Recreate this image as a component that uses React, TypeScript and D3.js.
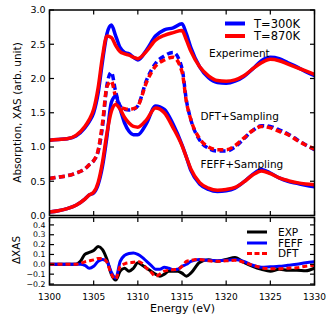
import React from 'react';
import * as d3 from 'd3';

// top panel energies (eV)
const energies = [1300, 1301, 1302, 1303, 1304, 1304.5, 1305, 1305.5, 1306, 1306.5, 1307, 1307.5, 1308, 1308.5, 1309, 1309.5, 1310, 1311, 1312, 1313, 1314, 1315, 1315.5, 1316, 1317, 1318, 1319, 1320, 1321, 1322, 1323, 1324, 1325, 1326, 1327, 1328, 1329, 1330];

const exp300 = [1.10, 1.11, 1.12, 1.16, 1.28, 1.37, 1.50, 1.78, 2.25, 2.65, 2.78, 2.62, 2.45, 2.38, 2.36, 2.31, 2.27, 2.42, 2.62, 2.71, 2.74, 2.80, 2.65, 2.45, 2.17, 2.01, 1.94, 1.93, 1.96, 2.03, 2.14, 2.26, 2.31, 2.29, 2.23, 2.17, 2.10, 2.04];
const exp870 = [1.10, 1.11, 1.12, 1.17, 1.30, 1.40, 1.55, 1.86, 2.32, 2.62, 2.60, 2.48, 2.39, 2.36, 2.34, 2.31, 2.29, 2.40, 2.56, 2.63, 2.67, 2.70, 2.56, 2.40, 2.17, 2.04, 1.97, 1.96, 1.98, 2.04, 2.14, 2.23, 2.28, 2.26, 2.21, 2.16, 2.11, 2.06];
const dft300 = [0.54, 0.56, 0.58, 0.62, 0.68, 0.74, 0.80, 0.93, 1.30, 1.90, 2.09, 1.80, 1.60, 1.55, 1.54, 1.55, 1.60, 1.98, 2.22, 2.33, 2.38, 2.15, 1.68, 1.40, 1.10, 0.98, 0.94, 0.94, 1.00, 1.12, 1.24, 1.31, 1.30, 1.25, 1.19, 1.11, 1.03, 0.96];
const dft870 = [0.54, 0.56, 0.58, 0.62, 0.68, 0.74, 0.80, 0.95, 1.35, 1.88, 1.96, 1.72, 1.58, 1.56, 1.55, 1.56, 1.60, 1.95, 2.18, 2.27, 2.31, 2.10, 1.66, 1.40, 1.12, 1.00, 0.96, 0.96, 1.02, 1.13, 1.24, 1.30, 1.28, 1.23, 1.18, 1.10, 1.03, 0.97];
const feff300 = [0.05, 0.07, 0.10, 0.15, 0.24, 0.30, 0.33, 0.45, 0.72, 1.15, 1.65, 1.74, 1.55, 1.35, 1.23, 1.18, 1.18, 1.35, 1.60, 1.55, 1.33, 1.03, 0.85, 0.66, 0.46, 0.38, 0.35, 0.36, 0.40, 0.49, 0.60, 0.67, 0.62, 0.55, 0.50, 0.47, 0.44, 0.42];
const feff870 = [0.05, 0.07, 0.10, 0.15, 0.24, 0.30, 0.34, 0.48, 0.78, 1.20, 1.52, 1.62, 1.55, 1.43, 1.35, 1.30, 1.29, 1.40, 1.57, 1.50, 1.28, 1.02, 0.85, 0.68, 0.48, 0.40, 0.37, 0.38, 0.41, 0.49, 0.59, 0.65, 0.61, 0.55, 0.51, 0.48, 0.46, 0.45];

// difference panel energies (eV)
const diffEnergies = [1300, 1303, 1303.5, 1304, 1304.5, 1305, 1305.5, 1306, 1306.5, 1307, 1307.5, 1308, 1308.5, 1309, 1309.5, 1310, 1310.5, 1311, 1311.5, 1312, 1312.5, 1313, 1313.5, 1314, 1314.5, 1315, 1315.5, 1316, 1317, 1318, 1319, 1320, 1321, 1322, 1323, 1324, 1325, 1326, 1327, 1328, 1329, 1330];
const diffExp = [0, 0, 0.03, 0.10, 0.12, 0.14, 0.18, 0.15, 0.05, -0.10, -0.16, -0.07, -0.04, -0.07, -0.04, 0.015, -0.01, -0.04, -0.07, -0.10, -0.12, -0.10, -0.07, -0.07, -0.07, -0.09, -0.12, -0.09, 0.02, 0.045, 0.03, 0.05, 0.07, 0.02, -0.02, -0.05, -0.07, -0.05, -0.06, -0.06, -0.065, -0.04];
const diffFeff = [0, 0, 0, -0.01, -0.04, -0.02, 0.03, 0.05, 0.03, -0.08, -0.14, 0.03, 0.09, 0.11, 0.115, 0.10, 0.07, 0.03, -0.01, -0.05, -0.05, -0.03, -0.04, -0.055, -0.05, -0.02, 0.0, 0.03, 0.05, 0.04, 0.035, 0.04, 0.05, 0.03, -0.01, -0.03, -0.025, -0.02, -0.01, 0.0, 0.015, 0.025];
const diffDft = [0, 0, 0.01, 0.025, 0.035, 0.045, 0.06, 0.06, 0.02, -0.10, -0.15, -0.02, 0.005, 0.015, 0.02, 0.03, 0.01, -0.04, -0.08, -0.12, -0.10, -0.07, -0.06, -0.055, -0.05, -0.02, 0.03, 0.04, 0.05, 0.035, 0.03, 0.035, 0.04, 0.02, -0.01, -0.035, -0.045, -0.045, -0.04, -0.035, -0.02, -0.01];

const xTicks = [1300, 1305, 1310, 1315, 1320, 1325, 1330];
const topTicks = [0, 0.5, 1, 1.5, 2, 2.5, 3];
const diffTicks = [-0.2, -0.1, 0, 0.1, 0.2, 0.3, 0.4];

const FONT = 'DejaVu Sans, sans-serif';
const left = 49.5, right = 314.5;
const topY0 = 10, topY1 = 215.5;
const botY0 = 217.5, botY1 = 285;

const x = d3.scaleLinear().domain([1300, 1330]).range([left, right]);
const yTop = d3.scaleLinear().domain([0, 3]).range([topY1, topY0]);
const yBot = d3.scaleLinear().domain([-0.21, 0.475]).range([botY1, botY0]);

const fmtTick = (d: number) => (d < 0 ? '\u2212' + Math.abs(d).toFixed(1) : d.toFixed(1));

function topLine(vals: number[]) {
  return d3.line<number>()
    .x((_, i) => x(energies[i]))
    .y(d => yTop(d))
    .curve(d3.curveMonotoneX)(vals) || '';
}

function botLine(vals: number[]) {
  return d3.line<number>()
    .x((_, i) => x(diffEnergies[i]))
    .y(d => yBot(d))
    .curve(d3.curveMonotoneX)(vals) || '';
}

const Frame = ({ y0, y1, yScale, yTicks, labelSize }: any) => (
  <g>
    {xTicks.map(t => (
      <g key={'x' + t}>
        <line x1={x(t)} x2={x(t)} y1={y1} y2={y1 - 4.5} stroke="#000" strokeWidth={1.2} />
        <line x1={x(t)} x2={x(t)} y1={y0} y2={y0 + 4.5} stroke="#000" strokeWidth={1.2} />
      </g>
    ))}
    {yTicks.map((t: number) => (
      <g key={'y' + t}>
        <line x1={left} x2={left + 4.5} y1={yScale(t)} y2={yScale(t)} stroke="#000" strokeWidth={1.2} />
        <line x1={right} x2={right - 4.5} y1={yScale(t)} y2={yScale(t)} stroke="#000" strokeWidth={1.2} />
        <text x={left - 4} y={yScale(t)} dy="0.35em" textAnchor="end" fontSize={labelSize} fontFamily={FONT}>{fmtTick(t)}</text>
      </g>
    ))}
    <rect x={left} y={y0} width={right - left} height={y1 - y0} fill="none" stroke="#000" strokeWidth={1.5} />
  </g>
);

export default function App() {
  const blue = '#0000ff', red = '#ff0000';
  const lw = 3.5;
  return (
    <svg width={332} height={321} style={{ position: 'absolute', left: 0, top: 0, background: '#fff' }}>
      <defs>
        <clipPath id="clipTop"><rect x={left} y={topY0} width={right - left} height={topY1 - topY0} /></clipPath>
        <clipPath id="clipBot"><rect x={left} y={botY0} width={right - left} height={botY1 - botY0} /></clipPath>
      </defs>

      {/* top panel curves */}
      <g clipPath="url(#clipTop)" fill="none" strokeLinejoin="round">
        <path d={topLine(exp300)} stroke={blue} strokeWidth={lw} />
        <path d={topLine(exp870)} stroke={red} strokeWidth={lw} />
        <path d={topLine(dft300)} stroke={blue} strokeWidth={lw} strokeDasharray="6,3.5" />
        <path d={topLine(dft870)} stroke={red} strokeWidth={lw} strokeDasharray="6,3.5" />
        <path d={topLine(feff300)} stroke={blue} strokeWidth={lw} />
        <path d={topLine(feff870)} stroke={red} strokeWidth={lw} />
      </g>
      <Frame y0={topY0} y1={topY1} yScale={yTop} yTicks={topTicks} labelSize={9.5} />

      {/* annotations */}
      <text x={209} y={57} fontSize={10.5} fontFamily={FONT}>Experiment</text>
      <text x={200.5} y={120} fontSize={10.5} fontFamily={FONT}>DFT+Sampling</text>
      <text x={200.5} y={168} fontSize={10.5} fontFamily={FONT}>FEFF+Sampling</text>

      {/* top legend */}
      <line x1={225} x2={245} y1={23.5} y2={23.5} stroke={blue} strokeWidth={4} />
      <text x={254} y={23.5} dy="0.36em" fontSize={11.5} fontFamily={FONT}>T=300K</text>
      <line x1={225} x2={245} y1={36} y2={36} stroke={red} strokeWidth={4} />
      <text x={254} y={36} dy="0.36em" fontSize={11.5} fontFamily={FONT}>T=870K</text>

      {/* difference panel */}
      <g clipPath="url(#clipBot)" fill="none" strokeLinejoin="round">
        <path d={botLine(diffExp)} stroke="#000" strokeWidth={3} />
        <path d={botLine(diffFeff)} stroke={blue} strokeWidth={3} />
        <path d={botLine(diffDft)} stroke={red} strokeWidth={3} strokeDasharray="5,3" />
      </g>
      <Frame y0={botY0} y1={botY1} yScale={yBot} yTicks={diffTicks} labelSize={7.8} />

      {/* bottom legend */}
      <line x1={247} x2={267} y1={232} y2={232} stroke="#000" strokeWidth={3} />
      <text x={278} y={232} dy="0.36em" fontSize={10.5} fontFamily={FONT}>EXP</text>
      <line x1={247} x2={267} y1={243} y2={243} stroke={blue} strokeWidth={3} />
      <text x={278} y={243} dy="0.36em" fontSize={10.5} fontFamily={FONT}>FEFF</text>
      <line x1={247} x2={267} y1={253.5} y2={253.5} stroke={red} strokeWidth={3} strokeDasharray="5,2.5" />
      <text x={278} y={253.5} dy="0.36em" fontSize={10.5} fontFamily={FONT}>DFT</text>

      {/* x tick labels */}
      {xTicks.map(t => (
        <text key={t} x={x(t)} y={300} textAnchor="middle" fontSize={9} fontFamily={FONT}>{t}</text>
      ))}

      {/* axis labels */}
      <text x={182.5} y={312} textAnchor="middle" fontSize={11} fontFamily={FONT}>Energy (eV)</text>
      <text transform="translate(21,112.5) rotate(-90)" textAnchor="middle" fontSize={10.5} fontFamily={FONT}>Absorption, XAS (arb. unit)</text>
      <text transform="translate(20,250) rotate(-90)" textAnchor="middle" fontSize={10.5} fontFamily={FONT}>ΔXAS</text>
    </svg>
  );
}
